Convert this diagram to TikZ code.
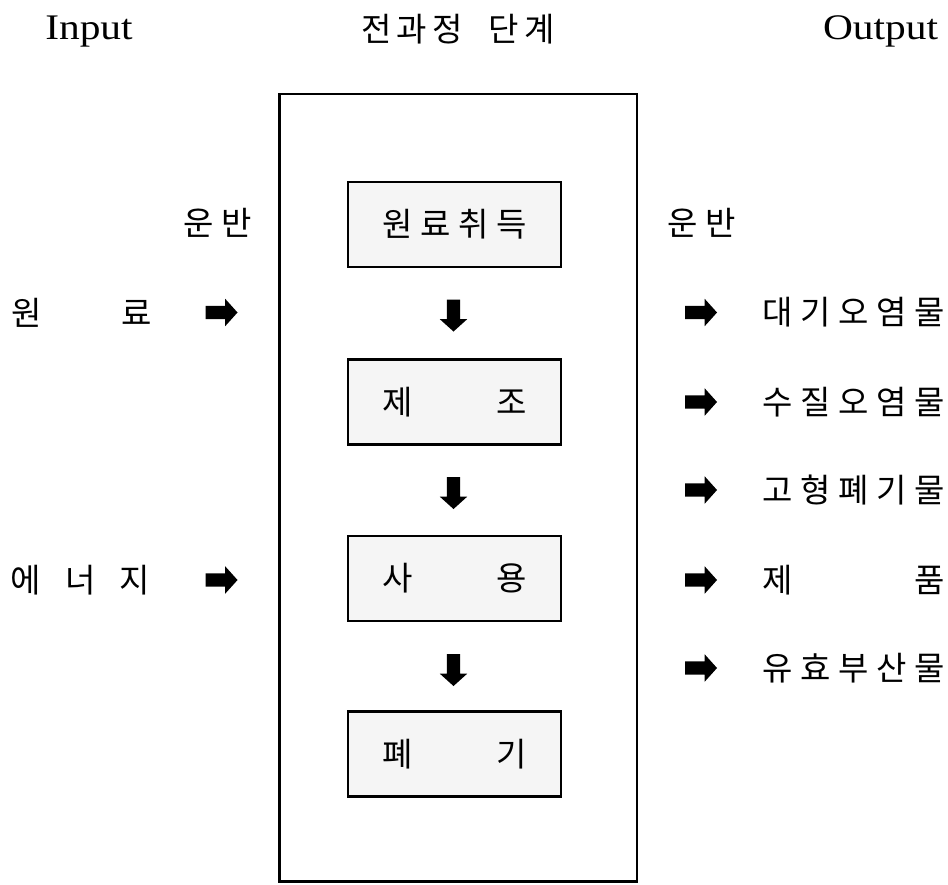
\documentclass[tikz,border=0pt]{standalone}
\usepackage{fontspec}
\usepackage{graphicx}
\setmainfont{Liberation Serif}
\newfontfamily\kr{Noto Sans CJK KR}
\usetikzlibrary{shapes.arrows}
\definecolor{boxgray}{HTML}{F5F5F5}
\newcommand\spread[2]{\makebox[#1][s]{#2}}
\tikzset{
  kt/.style={font=\kr\fontsize{33}{38}\selectfont, inner sep=0pt},
  lt/.style={font=\fontsize{36}{40}\selectfont, inner sep=0pt},
  stage/.style={kt, draw, line width=2.2pt, fill=boxgray, minimum width=213pt, minimum height=85pt},
  rarr/.style={single arrow, fill=black, draw=none, minimum height=32pt, inner xsep=0pt, inner ysep=6.5pt, single arrow head extend=7pt, single arrow tip angle=96, outer sep=0pt},
  darr/.style={rarr, rotate=-90},
  frame/.style={draw, line width=2.5pt, minimum width=357.5pt, minimum height=787.5pt, inner sep=0pt},
}
\begin{document}
\begin{tikzpicture}[x=1pt, y=-1pt]
\useasboundingbox (0,0) rectangle (948,884);
% headings
\node[lt, anchor=base] (in) at (89,39) {\scalebox{1.15}[1]{Input}};
\node[lt, anchor=base] (out) at (880.5,39) {\scalebox{1.15}[1]{Output}};
\node[kt] (title) at (458,29) {\spread{194pt}{전 과 정\hspace{20pt} 단 계}};
% frame
\node[frame] (fr) at (458,487.5) {};
% transport labels
\node[kt] (tl) at (217.5,223) {\spread{69pt}{운 반}};
\node[kt] (tr) at (701.5,223) {\spread{69pt}{운 반}};
% inputs
\node[kt, anchor=west] (raw) at (11,313) {\spread{141pt}{원 료}};
\node[kt, anchor=west] (energy) at (10,580) {\spread{140pt}{에 너 지}};
\node[rarr] (la1) at (218.5,312.5) {};
\node[rarr] (la2) at (218.5,580) {};
% stages
\node[stage] (s1) at (454.5,224.5) {\spread{144pt}{원 료 취 득}};
\node[stage] (s2) at (454.5,402) {\spread{144pt}{제 조}};
\node[stage] (s3) at (454.5,578.5) {\spread{144pt}{사 용}};
\node[stage] (s4) at (454.5,754) {\spread{144pt}{폐 기}};
\node[darr] (d1) at (453.5,312.5) {};
\node[darr] (d2) at (453.5,490) {};
\node[darr] (d3) at (453.5,667) {};
% outputs
\node[rarr] (ra1) at (698,312.5) {};
\node[rarr] (ra2) at (698,402) {};
\node[rarr] (ra3) at (698,490) {};
\node[rarr] (ra4) at (698,580) {};
\node[rarr] (ra5) at (698,668) {};
\node[kt, anchor=west] (o1) at (762,312.5) {\spread{183pt}{대 기 오 염 물}};
\node[kt, anchor=west] (o2) at (762,402) {\spread{183pt}{수 질 오 염 물}};
\node[kt, anchor=west] (o3) at (762,490) {\spread{183pt}{고 형 폐 기 물}};
\node[kt, anchor=west] (o4) at (762,580) {\spread{183pt}{제 품}};
\node[kt, anchor=west] (o5) at (762,668) {\spread{183pt}{유 효 부 산 물}};
\end{tikzpicture}
\end{document}
